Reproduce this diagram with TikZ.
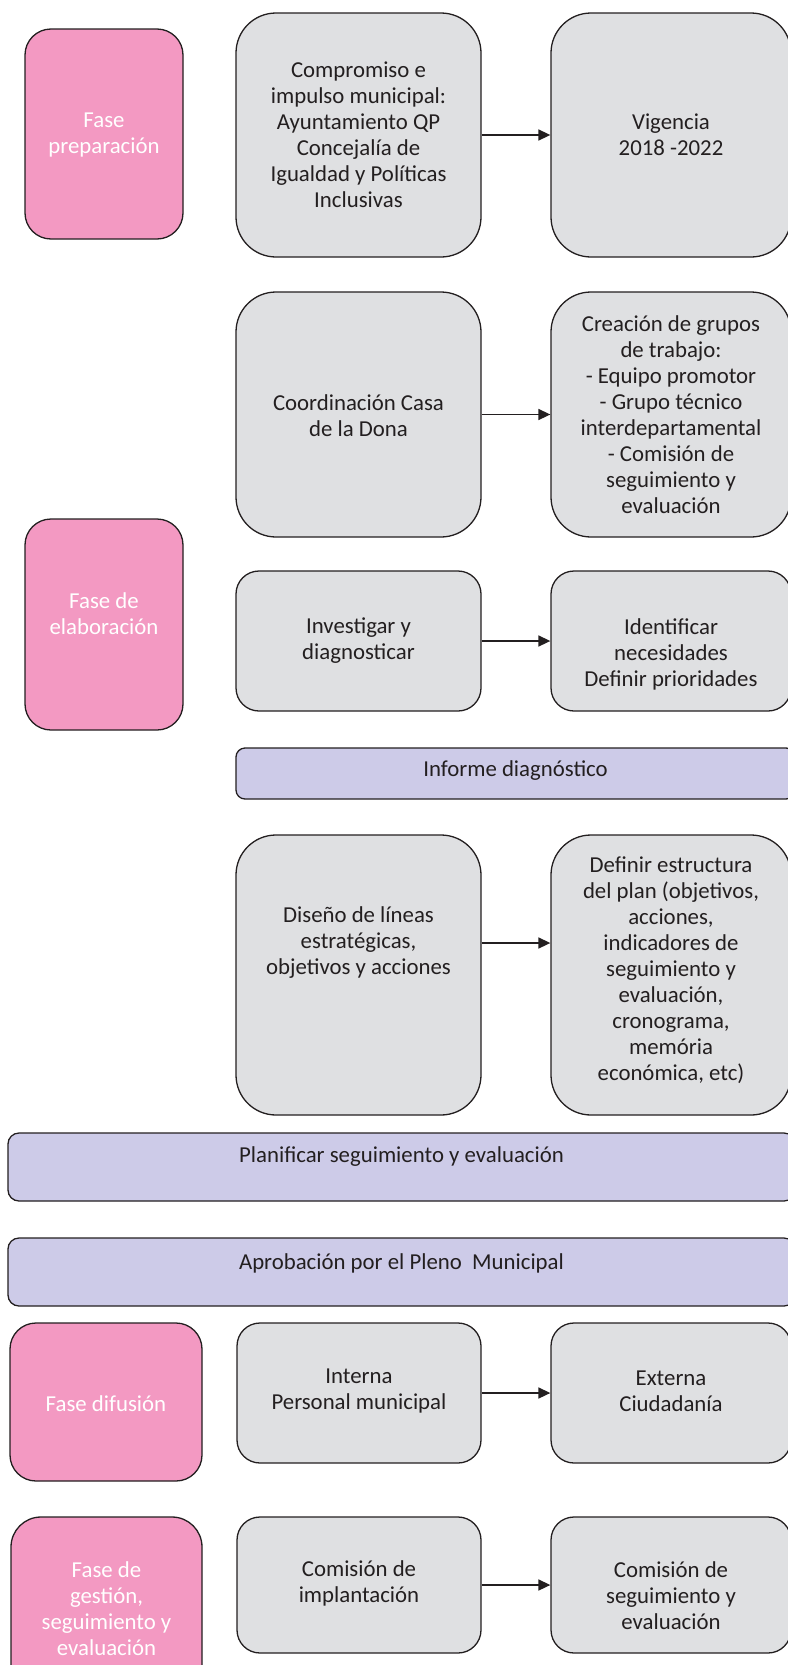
\documentclass[tikz,border=0pt]{standalone}
\usepackage{fontspec}
\setmainfont{Carlito}
\usetikzlibrary{arrows.meta}
\definecolor{pinkf}{RGB}{243,153,194}
\definecolor{grayf}{RGB}{223,224,226}
\definecolor{lavf}{RGB}{205,203,232}
\definecolor{edgec}{RGB}{35,31,32}
\definecolor{txtc}{RGB}{35,31,32}
\tikzset{
  basebox/.style={draw=edgec, line width=1.3pt, inner sep=0pt, rectangle},
  pinkbox/.style={basebox, fill=pinkf},
  graybox/.style={basebox, fill=grayf},
  lavbox/.style={basebox, fill=lavf},
  txt/.style={align=center, font=\fontsize{22.8}{26}\selectfont, text=txtc, inner sep=0pt},
  wtxt/.style={txt, text=white},
  arr/.style={-{Triangle[length=12pt,width=11pt]}, line width=1.6pt, draw=edgec},
}
\begin{document}
\begin{tikzpicture}[x=1pt,y=-1pt]
\useasboundingbox (0,0) rectangle (787,1665);
% ---------- boxes ----------
\node[pinkbox, rounded corners=26pt, minimum width=158pt, minimum height=210pt] (p1) at (104,134) {};
\node[graybox, rounded corners=40pt, minimum width=245pt, minimum height=244pt] (g1) at (358.5,135) {};
\node[graybox, rounded corners=40pt, minimum width=240pt, minimum height=244pt] (g2) at (671,135) {};
\node[graybox, rounded corners=40pt, minimum width=245pt, minimum height=245pt] (g3) at (358.5,414.5) {};
\node[graybox, rounded corners=40pt, minimum width=240pt, minimum height=245pt] (g4) at (671,414.5) {};
\node[pinkbox, rounded corners=26pt, minimum width=158pt, minimum height=211pt] (p2) at (104,624.5) {};
\node[graybox, rounded corners=23pt, minimum width=245pt, minimum height=140pt] (g5) at (358.5,641) {};
\node[graybox, rounded corners=23pt, minimum width=240pt, minimum height=140pt] (g6) at (671,641) {};
\node[lavbox, rounded corners=9pt, minimum width=559pt, minimum height=51pt] (b1) at (515.5,773.5) {};
\node[graybox, rounded corners=40pt, minimum width=245pt, minimum height=280pt] (g7) at (358.5,975) {};
\node[graybox, rounded corners=40pt, minimum width=240pt, minimum height=280pt] (g8) at (671,975) {};
\node[lavbox, rounded corners=11pt, minimum width=787pt, minimum height=68pt] (b2) at (401.5,1167) {};
\node[lavbox, rounded corners=11pt, minimum width=787pt, minimum height=68pt] (b3) at (401.5,1272) {};
\node[pinkbox, rounded corners=26pt, minimum width=192pt, minimum height=158pt] (p3) at (106,1402) {};
\node[graybox, rounded corners=23pt, minimum width=244pt, minimum height=140pt] (g9) at (359,1393) {};
\node[graybox, rounded corners=23pt, minimum width=240pt, minimum height=140pt] (g10) at (671,1393) {};
\node[pinkbox, rounded corners=30pt, minimum width=191pt, minimum height=183pt] (p4) at (106.5,1608.5) {};
\node[graybox, rounded corners=23pt, minimum width=244pt, minimum height=136pt] (g11) at (359,1585) {};
\node[graybox, rounded corners=23pt, minimum width=240pt, minimum height=136pt] (g12) at (671,1585) {};
% ---------- texts ----------
\node[wtxt] (p1t) at (104,135) {Fase\\preparación};
\node[txt] (g1t) at (358.5,135) {Compromiso e\\impulso municipal:\\Ayuntamiento QP\\Concejalía de\\Igualdad y Políticas\\Inclusivas};
\node[txt] (g2t) at (671,135) {Vigencia\\2018 -2022};
\node[txt] (g3t) at (358.5,416) {Coordinación Casa\\de la Dona};
\node[txt] (g4t) at (671,415) {Creación de grupos\\de trabajo:\\- Equipo promotor\\- Grupo técnico\\interdepartamental\\- Comisión de\\seguimiento y\\evaluación};
\node[wtxt] (p2t) at (104,614) {Fase de\\elaboración};
\node[txt] (g5t) at (358.5,641) {Investigar y\\diagnosticar};
\node[txt] (g6t) at (671,654) {Identificar\\necesidades\\Definir prioridades};
\node[txt] (b1t) at (515.5,771) {Informe diagnóstico};
\node[txt] (g7t) at (358.5,943) {Diseño de líneas\\estratégicas,\\objetivos y acciones};
\node[txt] (g8t) at (671,970) {Definir estructura\\del plan (objetivos,\\acciones,\\indicadores de\\seguimiento y\\evaluación,\\cronograma,\\memória\\económica, etc)};
\node[txt] (b2t) at (401.5,1157) {Planificar seguimiento y evaluación};
\node[txt] (b3t) at (401.5,1263) {Aprobación por el Pleno\ \ Municipal};
\node[wtxt] (p3t) at (106,1404) {Fase difusión};
\node[txt] (g9t) at (359,1391) {Interna\\Personal municipal};
\node[txt] (g10t) at (671,1391) {Externa\\Ciudadanía};
\node[wtxt] (p4t) at (106.5,1609) {Fase de\\gestión,\\seguimiento y\\evaluación};
\node[txt] (g11t) at (359,1583) {Comisión de\\implantación};
\node[txt] (g12t) at (671,1596) {Comisión de\\seguimiento y\\evaluación};
% ---------- arrows ----------
\draw[arr] (g1.east) -- (g2.west);
\draw[arr] (g3.east) -- (g4.west);
\draw[arr] (g5.east) -- (g6.west);
\draw[arr] (g7.east |- g7t) -- (g8.west |- g7t);
\draw[arr] (g9.east) -- (g10.west);
\draw[arr] (g11.east) -- (g12.west);
\end{tikzpicture}
\end{document}
